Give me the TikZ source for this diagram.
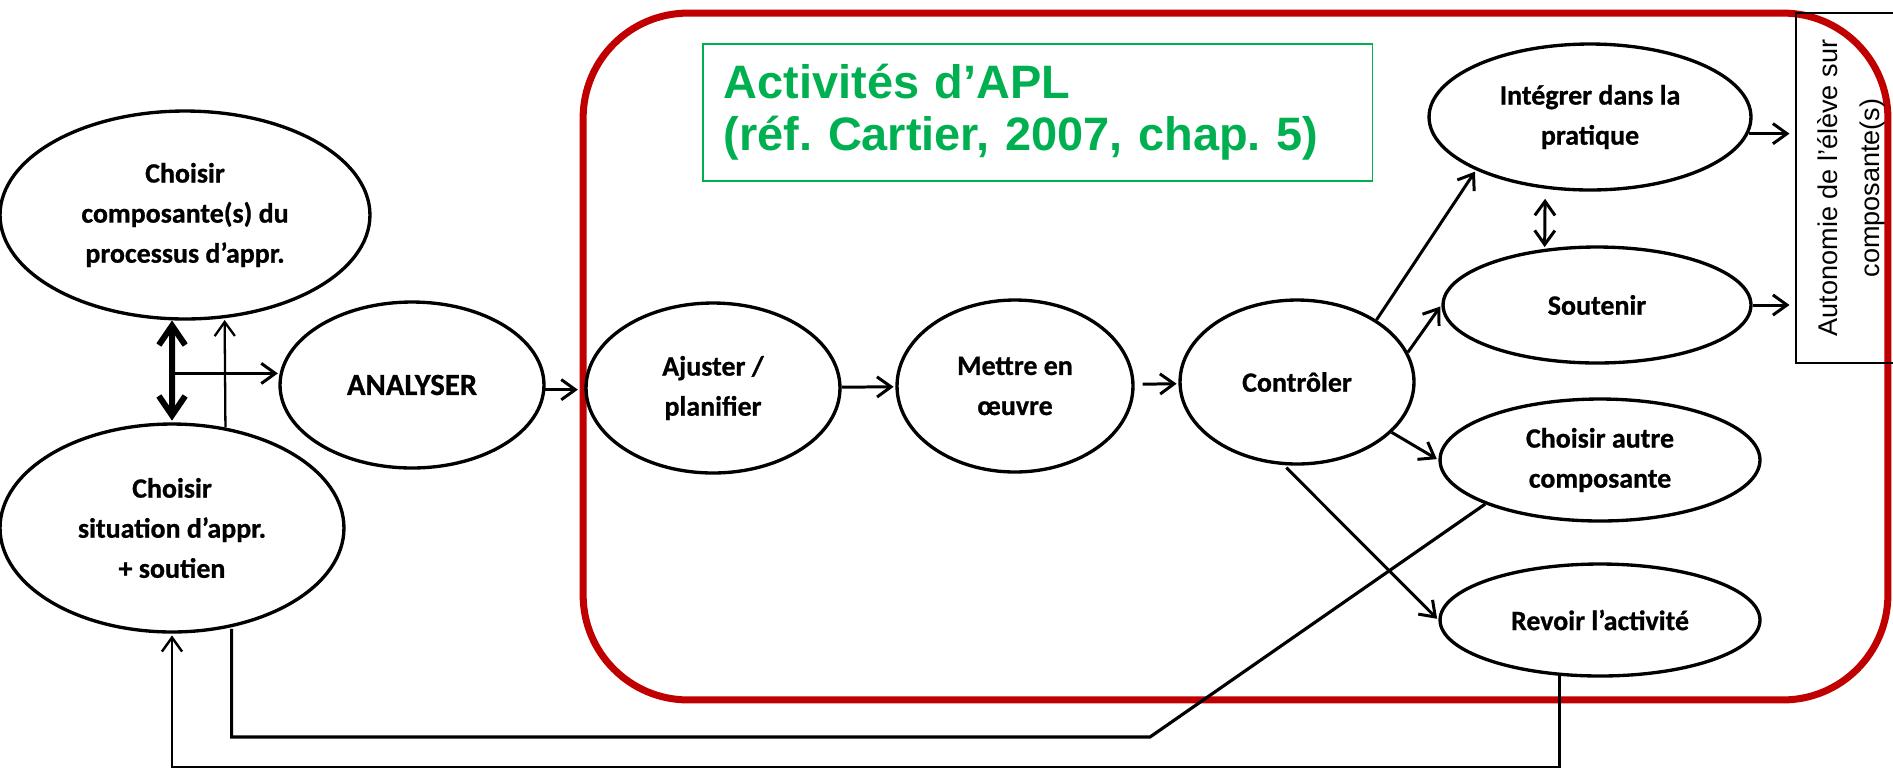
\documentclass[tikz,border=0pt]{standalone}
\usepackage{fontspec}
\setmainfont{Carlito}[BoldFeatures={FakeBold=0.8}]
\newfontfamily\arialfont{Liberation Sans}
\usetikzlibrary{shapes.geometric,arrows.meta}
\definecolor{aplred}{RGB}{192,0,0}
\definecolor{aplgreen}{RGB}{0,176,80}
\frenchspacing

\begin{document}
\begin{tikzpicture}[->,>={Straight Barb[length=8pt,width=11.5pt]},shorten >=1pt,x=0.02cm,y=-0.02cm,line width=1.7pt,
    main node/.style={ellipse,draw,line width=1.9pt,inner sep=0pt,align=center,font=\fontsize{15.9}{22.8}\selectfont\bfseries}]
                \useasboundingbox (0,0) rectangle (1893,769);

                % cadres
                \node[draw=aplred,line width=4pt,rounded corners=2.1cm,minimum width=26.1cm,minimum height=13.74cm] (frame) at (1235.5,356.5) {};
                \node[draw=aplgreen,line width=0.9pt,text=aplgreen,anchor=north west,inner xsep=0.42cm,text width=12.56cm,minimum height=2.74cm,align=left,font=\arialfont\bfseries\fontsize{26.7}{29.6}\selectfont] (title) at (702,43) {Activités d’APL\\(réf. Cartier, 2007, chap. 5)};
                \node[draw,line width=1.4pt,rotate=90,minimum width=7cm,minimum height=2.2cm,align=center,font=\arialfont\fontsize{15.4}{23.9}\selectfont] (autonomy) at (1851,188) {Autonomie de l’élève sur\\composante(s)};

                \node[main node,minimum width=7.4cm,minimum height=4.16cm] (1) at (185,215) {Choisir\\composante(s) du\\processus d’appr.};
                \node[main node,minimum width=6.88cm,minimum height=4.16cm] (2) at (172,528) {Choisir\\situation d’appr.\\+ soutien};
                \node[main node,minimum width=5.28cm,minimum height=3.32cm,font=\fontsize{17.5}{21}\selectfont\bfseries] (3) at (412,385) {ANALYSER};
                \node[main node,minimum width=5.08cm,minimum height=3.4cm] (4) at (713,388) {Ajuster /\\planifier};
                \node[main node,minimum width=4.72cm,minimum height=3.44cm] (5) at (1015,386) {Mettre en\\œuvre};
                \node[main node,minimum width=4.68cm,minimum height=3.28cm] (6) at (1297,382) {Contrôler};
                \node[main node,minimum width=6.44cm,minimum height=2.92cm] (7) at (1590,117) {Intégrer dans la\\pratique};
                \node[main node,minimum width=6.16cm,minimum height=2.32cm] (8) at (1597,305) {Soutenir};
                \node[main node,minimum width=6.4cm,minimum height=2.44cm] (9) at (1600,460) {Choisir autre\\composante};
                \node[main node,minimum width=6.4cm,minimum height=2.24cm] (10) at (1600,620) {Revoir l’activité};

                \coordinate (join) at (1.263 |- 3.175);
                \coordinate (bend) at (1150,737);
                \coordinate (bottom) at (172,767);

                % gauche
                \draw[<->,line width=3.4pt,>={Straight Barb[length=11pt,width=15pt]}] (1.263) -- (2.north);
                \draw[line width=1.3pt] (2.62) -- (1.291);
                \draw (join) -- (3.175);

                \path
                    (3.358) edge (3.358 -| frame.west)
                    (4) edge (5)
                    (5) edge[shorten <=4.5pt] (6)
                    (6.38) edge (7.205)
                    (6.15) edge (8.west)
                    (6.332) edge (9.west)
                    (6.261) edge[shorten <=2pt] (10.west)
                    (7.238) edge[<->,shorten <=5.7pt] (8.133)
                    (7.354) edge[shorten >=3pt] (7.354 -| autonomy.north)
                    (8.east) edge[shorten >=3pt] (8.east -| autonomy.north)
                ;

                % retours
                \draw[-,line width=1.8pt] (9.201) -- (bend) -| (2.301);
                \draw[line width=1.4pt] (10.234) |- (bottom) -- (2.south);
            \end{tikzpicture}
\end{document}
